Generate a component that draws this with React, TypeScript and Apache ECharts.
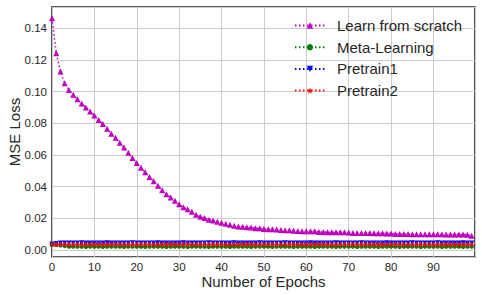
import React, { useEffect, useRef } from "react";
import * as echarts from "echarts";

const seriesNames = ["Learn from scratch", "Meta-Learning", "Pretrain1", "Pretrain2"];

const scratch = [
  0.1464, 0.1243, 0.1127, 0.1053, 0.1011, 0.098, 0.0952, 0.0925, 0.09, 0.0875,
  0.0849, 0.0821, 0.0796, 0.0766, 0.0735, 0.0709, 0.0677, 0.0648, 0.0614, 0.0582,
  0.055, 0.0519, 0.0491, 0.0461, 0.0434, 0.0406, 0.0377, 0.0352, 0.0332, 0.0311,
  0.0289, 0.027, 0.0257, 0.0242, 0.0223, 0.0211, 0.0202, 0.0192, 0.0187, 0.0178,
  0.0172, 0.0166, 0.016, 0.0154, 0.0149, 0.0147, 0.0144, 0.0142, 0.0138, 0.0137,
  0.0133, 0.0132, 0.0131, 0.013, 0.0126, 0.0125, 0.0125, 0.0122, 0.012, 0.0119,
  0.0119, 0.0118, 0.0118, 0.0114, 0.0114, 0.0113, 0.0113, 0.0113, 0.0112, 0.0112,
  0.0111, 0.0108, 0.0108, 0.0107, 0.0107, 0.0107, 0.0106, 0.0106, 0.0106, 0.0105,
  0.0105, 0.0102, 0.0101, 0.0101, 0.0101, 0.01, 0.01, 0.01, 0.01, 0.0099,
  0.0099, 0.0099, 0.0099, 0.0098, 0.0098, 0.0098, 0.0098, 0.0098, 0.0097, 0.009,
];

const meta = [
  0.0034, 0.0033, 0.003, 0.0026, 0.0022, 0.0022, 0.0022, 0.0022, 0.0021, 0.0022,
  0.0022, 0.0022, 0.0021, 0.0022, 0.0022, 0.0022, 0.0022, 0.0021, 0.0022, 0.0022,
  0.0022, 0.0022, 0.0021, 0.0022, 0.0022, 0.0022, 0.0022, 0.0021, 0.0022, 0.0022,
  0.0022, 0.0022, 0.0021, 0.0022, 0.0022, 0.0022, 0.0022, 0.0021, 0.0022, 0.0022,
  0.0022, 0.0022, 0.0021, 0.0022, 0.0022, 0.0022, 0.0022, 0.0021, 0.0022, 0.0022,
  0.0022, 0.0022, 0.0021, 0.0022, 0.0022, 0.0022, 0.0022, 0.0021, 0.0022, 0.0022,
  0.0022, 0.0022, 0.0021, 0.0022, 0.0022, 0.0022, 0.0022, 0.0021, 0.0022, 0.0022,
  0.0022, 0.0022, 0.0021, 0.0022, 0.0022, 0.0022, 0.0022, 0.0021, 0.0022, 0.0022,
  0.0022, 0.0022, 0.0021, 0.0022, 0.0022, 0.0022, 0.0022, 0.0021, 0.0022, 0.0022,
  0.0022, 0.0022, 0.0021, 0.0022, 0.0022, 0.0022, 0.0022, 0.0021, 0.0022, 0.0022,
];

const pretrain1 = [
  0.0038, 0.0042, 0.0044, 0.0045, 0.0045, 0.0045, 0.0045, 0.0046, 0.0045, 0.0045,
  0.0045, 0.0045, 0.0045, 0.0046, 0.0045, 0.0045, 0.0045, 0.0045, 0.0045, 0.0046,
  0.0045, 0.0045, 0.0045, 0.0045, 0.0045, 0.0046, 0.0045, 0.0045, 0.0045, 0.0045,
  0.0045, 0.0046, 0.0045, 0.0045, 0.0045, 0.0045, 0.0045, 0.0046, 0.0045, 0.0045,
  0.0045, 0.0045, 0.0045, 0.0046, 0.0045, 0.0045, 0.0045, 0.0045, 0.0045, 0.0046,
  0.0045, 0.0045, 0.0045, 0.0045, 0.0045, 0.0046, 0.0045, 0.0045, 0.0045, 0.0045,
  0.0045, 0.0046, 0.0045, 0.0045, 0.0045, 0.0045, 0.0045, 0.0046, 0.0045, 0.0045,
  0.0045, 0.0045, 0.0045, 0.0046, 0.0045, 0.0045, 0.0045, 0.0045, 0.0045, 0.0046,
  0.0045, 0.0045, 0.0045, 0.0045, 0.0045, 0.0046, 0.0045, 0.0045, 0.0045, 0.0045,
  0.0045, 0.0046, 0.0045, 0.0045, 0.0045, 0.0045, 0.0045, 0.0046, 0.0045, 0.0045,
];

const pretrain2 = [
  0.0037, 0.0036, 0.0036, 0.0036, 0.0036, 0.0036, 0.0035, 0.0036, 0.0036, 0.0036,
  0.0036, 0.0036, 0.0035, 0.0036, 0.0036, 0.0036, 0.0036, 0.0036, 0.0035, 0.0036,
  0.0036, 0.0036, 0.0036, 0.0036, 0.0035, 0.0036, 0.0036, 0.0036, 0.0036, 0.0036,
  0.0035, 0.0036, 0.0036, 0.0036, 0.0036, 0.0036, 0.0035, 0.0036, 0.0036, 0.0036,
  0.0036, 0.0036, 0.0035, 0.0036, 0.0036, 0.0036, 0.0036, 0.0036, 0.0035, 0.0036,
  0.0036, 0.0036, 0.0036, 0.0036, 0.0035, 0.0036, 0.0036, 0.0036, 0.0036, 0.0036,
  0.0035, 0.0036, 0.0036, 0.0036, 0.0036, 0.0036, 0.0035, 0.0036, 0.0036, 0.0036,
  0.0036, 0.0036, 0.0035, 0.0036, 0.0036, 0.0036, 0.0036, 0.0036, 0.0035, 0.0036,
  0.0036, 0.0036, 0.0036, 0.0036, 0.0035, 0.0036, 0.0036, 0.0036, 0.0036, 0.0036,
  0.0035, 0.0036, 0.0036, 0.0036, 0.0036, 0.0036, 0.0035, 0.0036, 0.0036, 0.0036,
];

const epochs = scratch.map((_, i) => i);

const FONT = "Liberation Sans, Arial, Helvetica, sans-serif";
const TXT = "#262626";
const STAR =
  "path://M0,-10 L2.35,-3.24 L9.51,-3.09 L3.8,1.24 L5.88,8.09 L0,4 L-5.88,8.09 L-3.8,1.24 L-9.51,-3.09 L-2.35,-3.24 Z";

function pairs(vals: number[]) {
  return vals.map((v, i) => [epochs[i], v]);
}

export default function App() {
  const ref = useRef<HTMLDivElement>(null);
  useEffect(() => {
    if (!ref.current) return;
    const chart = echarts.init(ref.current, undefined, { renderer: "svg" });
    const mk = (
      name: string,
      vals: number[],
      color: string,
      symbol: string,
      size: number,
      rotate = 0
    ) => ({
      name,
      type: "line",
      data: pairs(vals),
      symbol,
      symbolSize: size,
      symbolRotate: rotate,
      showSymbol: true,
      lineStyle: { color, width: 1.5, type: [1.5, 2.5] },
      itemStyle: { color, borderWidth: 0 },
      emphasis: { disabled: true },
    });
    chart.setOption({
      animation: false,
      textStyle: { fontFamily: FONT },
      grid: {
        left: 52,
        right: 7,
        top: 7,
        bottom: 38,
        outerBoundsMode: "none",
        containLabel: false,
        show: true,
        borderColor: "#262626",
        borderWidth: 1.6,
        backgroundColor: "transparent",
      },
      legend: {
        orient: "vertical",
        right: 15,
        top: 13,
        itemWidth: 30,
        itemHeight: 8,
        itemGap: 6.7,
        textStyle: {
          fontSize: 15,
          lineHeight: 15,
          color: TXT,
          fontFamily: FONT,
          padding: [0, 0, 0, 7],
        },
        data: seriesNames,
      },
      xAxis: {
        type: "value",
        min: 0,
        max: 99.8,
        interval: 10,
        name: "Number of Epochs",
        nameLocation: "middle",
        nameGap: 17,
        nameMoveOverlap: false,
        nameTextStyle: { fontSize: 15, color: TXT, fontFamily: FONT },
        axisLine: { show: false },
        axisTick: { show: false },
        axisLabel: {
          fontSize: 11.5,
          color: TXT,
          margin: 4,
          showMaxLabel: false,
          formatter: (v: number) => (Math.abs(v % 10) < 1e-6 ? String(v) : ""),
        },
        splitLine: { show: true, lineStyle: { color: "#cccccc", width: 1 } },
      },
      yAxis: {
        type: "value",
        min: -0.0044,
        max: 0.1535,
        minInterval: 0.02,
        maxInterval: 0.02,
        splitNumber: 8,
        name: "MSE Loss",
        nameLocation: "middle",
        nameGap: 30,
        nameMoveOverlap: false,
        nameTextStyle: { fontSize: 15, color: TXT, fontFamily: FONT },
        axisLine: { show: false },
        axisTick: { show: false },
        axisLabel: {
          fontSize: 11.5,
          color: TXT,
          margin: 5,
          showMinLabel: false,
          showMaxLabel: false,
          formatter: (v: number) => {
            const k = v / 0.02;
            return Math.abs(k - Math.round(k)) < 1e-6 ? v.toFixed(2) : "";
          },
        },
        splitLine: { show: true, lineStyle: { color: "#cccccc", width: 1 } },
      },
      series: [
        mk(seriesNames[0], scratch, "#bf00bf", "triangle", 6),
        mk(seriesNames[1], meta, "#008000", "circle", 4.5),
        mk(seriesNames[2], pretrain1, "#0000ff", "triangle", 5, 180),
        mk(seriesNames[3], pretrain2, "#ff0000", STAR, 6),
      ],
    });
    return () => chart.dispose();
  }, []);
  return (
    <div
      ref={ref}
      style={{ position: "absolute", left: 0, top: 0, width: 482, height: 295, background: "#fff" }}
    />
  );
}
